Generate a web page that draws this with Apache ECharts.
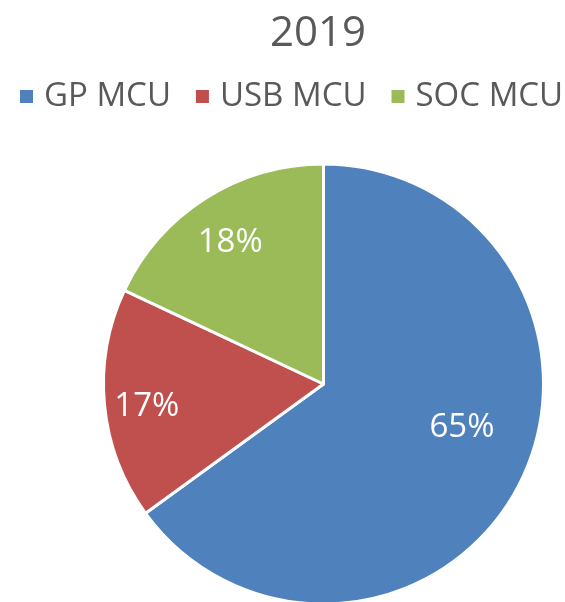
<!DOCTYPE html>
<html>
<head>
<meta charset="utf-8">
<script src="https://cdn.jsdelivr.net/npm/echarts@6/dist/echarts.min.js"></script>
<style>
  html, body { margin: 0; padding: 0; background: #fff; }
  #chart { width: 565px; height: 602px; }
</style>
</head>
<body>
<div id="chart"></div>
<script>
// chart data
const titleText = '2019';
const categories = ['GP MCU', 'USB MCU', 'SOC MCU'];
const shares = [65, 17, 18];
const colors = ['#4F81BD', '#C0504D', '#9BBB59'];

// label placement like the Excel chart: fraction of radius, and a small angle nudge (deg)
const labelRadius = [0.66, 0.81, 0.77];
const labelNudge = [-9.4, -2, -1];

const R = 220;
const CX = 323.5, CY = 384;
const total = shares.reduce((a, b) => a + b, 0);

const chart = echarts.init(document.getElementById('chart'));

const option = {
    animation: false,
    color: colors,
    title: {
        text: titleText,
        left: 313,
        textAlign: 'center',
        top: 8,
        textStyle: { fontFamily: 'Open Sans', fontSize: 42, fontWeight: 'normal', color: '#595959' }
    },
    legend: {
        data: categories,
        left: 18,
        top: 80,
        width: 560,
        padding: 0,
        icon: 'rect',
        itemWidth: 15,
        itemHeight: 15,
        itemGap: 23,
        textStyle: { fontFamily: 'Open Sans', fontSize: 33, color: '#595959', padding: [0, 0, 0, 5] }
    },
    series: [{
        type: 'pie',
        center: [CX, CY],
        radius: R,
        startAngle: 90,
        clockwise: true,
        data: categories.map((c, i) => ({ name: c, value: shares[i] })),
        itemStyle: { borderColor: '#fff', borderWidth: 3 },
        label: {
            show: true,
            position: 'inside',
            formatter: p => p.value + '%',
            color: '#fff',
            fontFamily: 'Open Sans',
            fontSize: 33
        },
        labelLine: { show: false },
        labelLayout: function (params) {
            const i = params.dataIndex;
            let before = 0;
            for (let k = 0; k < i; k++) before += shares[k];
            const mid = (before + shares[i] / 2) / total * Math.PI * 2 + labelNudge[i] * Math.PI / 180;
            return {
                x: CX + Math.sin(mid) * labelRadius[i] * R,
                y: CY - Math.cos(mid) * labelRadius[i] * R,
                align: 'center',
                verticalAlign: 'middle'
            };
        }
    }]
};

chart.setOption(option);
</script>
</body>
</html>
